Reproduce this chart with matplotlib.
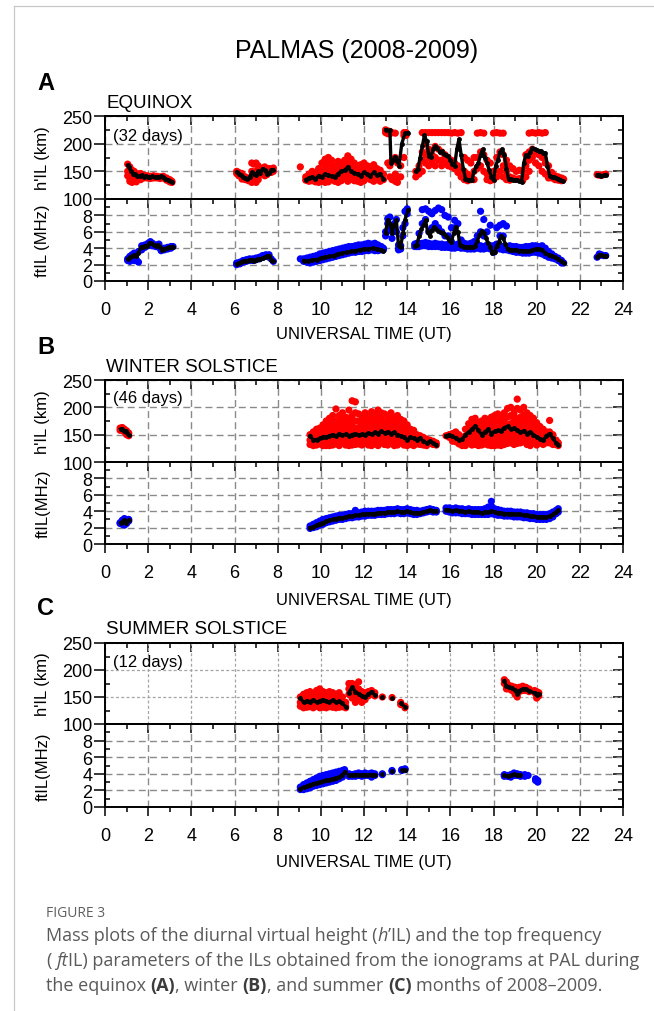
import numpy as np
import matplotlib
matplotlib.use("Agg")
import matplotlib.pyplot as plt
from matplotlib.ticker import MultipleLocator, FixedLocator
from matplotlib.lines import Line2D

plt.rcParams['font.family'] = ['Liberation Sans', 'DejaVu Sans']

# ---------------- DATA ----------------
TITLE = "PALMAS (2008-2009)"
SEASONS = ["EQUINOX", "WINTER SOLSTICE", "SUMMER SOLSTICE"]
DAYS = ["(32 days)", "(46 days)", "(12 days)"]
LETTERS = ["A", "B", "C"]
FT_LABELS = ["ftIL (MHz)", "ftIL(MHz)", "ftIL(MHz)"]
XTICKS = [0, 2, 4, 6, 8, 10, 12, 14, 16, 18, 20, 22, 24]

# Panel A - h'IL scatter (time: [heights])
A_h_pts = {
 1.05:[163,150,142], 1.15:[158,148,137,132], 1.25:[152,144,136,130], 1.35:[150,140,133],
 1.45:[146,138,131], 1.55:[145,137], 1.65:[146,140,135], 1.8:[143,138], 1.95:[142,138],
 2.1:[141,137], 2.25:[142,138], 2.4:[141,138], 2.55:[140,137], 2.7:[141,138], 2.85:[138,134],
 3.0:[135,131], 3.1:[132,130],
 6.1:[150,146], 6.2:[148,142], 6.35:[146,140,136], 6.5:[140,135], 6.65:[138,133],
 6.8:[165,150,140,130], 6.9:[163,145,132], 7.0:[165,150,140,130], 7.1:[160,148,135],
 7.25:[155,145], 7.4:[158,150,142], 7.5:[150,144], 7.6:[155,148], 7.7:[154,148], 7.8:[156,150],
 9.05:[158], 9.3:[140,134], 9.45:[145,138,132], 9.6:[150,140,133], 9.75:[148,138,131],
 9.9:[155,145,136,130], 10.05:[165,150,140,132], 10.2:[172,160,148,138,130],
 10.35:[175,165,150,140,131], 10.5:[170,158,145,135], 10.65:[160,150,140,132],
 10.8:[168,155,145,135,130], 10.95:[165,152,142,133], 11.1:[170,158,148,138],
 11.25:[178,165,152,140,132], 11.4:[172,160,148,136], 11.55:[165,155,145,133],
 11.7:[160,150,140,132], 11.85:[162,150,138,130], 12.0:[165,152,142,133],
 12.15:[160,148,138], 12.3:[158,146,135], 12.45:[162,150,140,132], 12.6:[155,145,135],
 12.75:[152,140,132], 12.9:[145,135],
 13.0:[225,220], 13.1:[223,218,165], 13.2:[222,218,160,140], 13.3:[220,170,135],
 13.45:[219,175,145,132], 13.55:[165,140,130], 13.7:[160,140], 13.85:[220,215,175],
 13.95:[220,215],
 14.4:[150,140], 14.55:[160,145], 14.7:[220,185,170,150], 14.85:[220,200,180,165],
 15.0:[220,190,175,160], 15.15:[220,180,165], 15.3:[220,195,175,160], 15.45:[220,190,170],
 15.6:[220,185,170,160], 15.75:[220,180,165], 15.9:[220,175,160], 16.05:[219,170,158],
 16.2:[220,165,155], 16.35:[219,160,148], 16.5:[220,155,140], 16.65:[175,150,135],
 16.8:[170,145,133], 16.95:[165,140,135], 17.1:[175,150,135], 17.25:[219,175,155],
 17.4:[220,185,160], 17.55:[219,180,150], 17.7:[170,145,135], 17.85:[165,140,133],
 18.0:[219,150,135], 18.15:[220,175,140], 18.3:[219,185,150], 18.45:[219,180,160,140],
 18.6:[170,150,135], 18.75:[160,140,134], 18.9:[155,138], 19.05:[150,136], 19.2:[152,137],
 19.35:[150,133], 19.5:[180,160,140], 19.65:[219,185,170,150], 19.8:[220,190,175],
 19.95:[219,185,165], 20.1:[220,180,160], 20.25:[219,175,150], 20.4:[220,165,145],
 20.55:[160,145,138], 20.7:[148,138], 20.85:[142,135], 21.0:[140,134], 21.15:[138,133],
 21.25:[136],
 22.8:[144], 22.9:[143], 23.0:[143], 23.1:[144], 23.2:[145],
}
A_h_mean = [
 {1.05:161,1.12:157,1.2:150,1.3:146,1.4:145,1.5:142,1.6:141,1.7:143,1.8:140,1.9:141,2.0:139,
  2.1:140,2.2:141,2.3:139,2.4:140,2.5:140,2.6:141,2.7:140,2.8:137,2.9:135,3.0:133,3.1:131},
 {6.1:149,6.2:146,6.3:143,6.4:140,6.5:138,6.6:136,6.7:140,6.8:148,6.9:146,7.0:144,7.1:150,
  7.2:147,7.3:155,7.4:152,7.5:145,7.6:147,7.7:152,7.8:153},
 {9.3:135,9.45:138,9.6:140,9.75:136,9.9:142,10.05:140,10.2:145,10.35:143,10.5:141,10.65:140,
  10.8:146,10.95:150,11.1:152,11.25:158,11.4:150,11.55:147,11.7:145,11.85:142,12.0:148,
  12.15:145,12.3:142,12.45:148,12.6:143,12.75:146,12.9:136},
 {13.0:225,13.2:224,13.25:165,13.35:170,13.45:176,13.55:168,13.62:160,13.75:200,13.9:219,14.05:219},
 {14.4:150,14.5:155,14.6:175,14.7:195,14.8:215,14.9:205,15.0:178,15.1:176,15.2:190,15.3:196,
  15.4:192,15.5:185,15.6:187,15.7:182,15.8:180,15.9:177,16.0:170,16.1:163,16.2:160,16.3:190,
  16.4:208,16.5:180,16.6:155,16.7:137,16.8:135,16.9:135,17.0:134,17.1:150,17.2:160,17.3:165,
  17.4:180,17.5:190,17.6:175,17.7:165,17.8:152,17.9:140,18.0:134,18.1:160,18.2:170,18.3:185,
  18.4:190,18.5:180,18.6:155,18.7:136,18.8:136,18.9:135,19.0:134,19.1:135,19.2:132,19.3:131,
  19.4:165,19.5:180,19.6:178,19.7:185,19.8:192,19.9:190,20.0:188,20.1:186,20.2:187,20.3:184,
  20.4:183,20.5:160,20.6:142,20.7:140,20.8:139,20.9:138,21.0:137,21.1:135,21.2:133},
 {22.8:143,22.9:143,23.0:142,23.1:143,23.2:144},
]

# Panel A - ftIL scatter
A_f_pts = {
 1.05:[2.7,2.5], 1.15:[3.0,2.6,2.4], 1.25:[3.2,2.8], 1.35:[3.4,2.9,2.5], 1.45:[3.3,2.6],
 1.55:[3.6,2.3], 1.7:[4.3,3.8], 1.85:[4.4,4.1], 2.0:[4.6,4.3], 2.1:[4.8,4.5], 2.2:[4.6,4.3],
 2.35:[4.4,4.2], 2.5:[4.5,4.1], 2.6:[3.9,3.7], 2.75:[4.0,3.8], 2.9:[4.1,3.9], 3.05:[4.2,4.0],
 3.15:[4.2],
 6.1:[2.2,2.0], 6.25:[2.3,2.1], 6.4:[2.5,2.3], 6.55:[2.6,2.4], 6.7:[2.7,2.5], 6.85:[2.7,2.5],
 7.0:[2.8,2.6], 7.15:[2.9,2.7], 7.3:[3.1,2.9], 7.45:[3.2,3.0], 7.6:[3.2,2.9], 7.7:[2.7], 7.8:[2.4],
 9.05:[2.7], 9.2:[2.7,2.4], 9.35:[2.8,2.3], 9.5:[2.9,2.5,2.2], 9.65:[3.0,2.6,2.3],
 9.8:[3.1,2.7,2.4], 9.95:[3.3,2.9,2.5], 10.1:[3.4,3.0,2.6], 10.25:[3.5,3.1,2.7],
 10.4:[3.6,3.2,2.8], 10.55:[3.7,3.3,2.9], 10.7:[3.8,3.4,3.0], 10.85:[3.9,3.5,3.1],
 11.0:[4.0,3.6,3.2], 11.15:[4.1,3.7,3.3], 11.3:[4.2,3.8,3.4], 11.45:[4.2,3.8,3.5],
 11.6:[4.3,3.9,3.5], 11.75:[4.4,4.0,3.6], 11.9:[4.4,4.0,3.6], 12.05:[4.5,4.1,3.7],
 12.2:[4.6,4.2,3.7], 12.35:[4.5,4.1,3.8], 12.5:[4.6,4.1,3.7], 12.65:[4.4,4.0,3.7],
 12.8:[4.2,3.8], 12.9:[4.0,3.8],
 13.0:[6.0,5.5], 13.1:[7.6,7.0], 13.2:[7.8,6.5], 13.3:[6.0,5.2], 13.4:[7.0,6.3], 13.5:[7.5,6.0],
 13.6:[4.4,4.0,3.8], 13.7:[4.3,3.9], 13.8:[6.5,5.5], 13.9:[8.5,7.0], 14.0:[8.8,8.2],
 14.35:[4.5,4.2], 14.45:[4.6,4.2], 14.55:[5.8,4.6,4.2], 14.7:[8.7,7.0,4.6,4.3],
 14.85:[8.8,7.5,4.7,4.3], 15.0:[8.5,6.0,4.6,4.2], 15.15:[8.2,6.5,4.5,4.2],
 15.3:[8.6,7.0,4.6,4.2], 15.45:[8.9,6.5,4.5,4.2], 15.6:[8.7,6.0,4.5,4.1],
 15.75:[8.0,5.5,4.4,4.1], 15.9:[7.8,5.5,4.5,4.1], 16.05:[6.5,4.8,4.3,4.0],
 16.2:[7.4,6.5,4.4,4.0], 16.35:[7.0,4.5,4.1], 16.5:[5.0,4.4,4.0], 16.65:[4.6,4.3,4.0],
 16.8:[4.5,4.2,3.9], 16.95:[4.6,4.2,3.9], 17.1:[4.8,4.3,3.9], 17.25:[5.5,4.4,4.0],
 17.4:[8.5,6.0,4.3,3.9], 17.55:[7.5,5.5,4.2,3.9], 17.7:[6.0,4.4,4.0], 17.85:[6.8,4.3,3.9],
 18.0:[4.3,3.9,3.5], 18.15:[6.5,4.5,4.0], 18.3:[6.8,5.5,4.3,3.9], 18.45:[7.0,5.5,4.2,3.8],
 18.6:[6.7,4.2,3.8], 18.75:[4.3,4.0,3.7], 18.9:[4.2,3.9,3.6], 19.05:[4.2,3.8,3.5],
 19.2:[4.1,3.8,3.5], 19.35:[4.1,3.7,3.4], 19.5:[4.2,3.8,3.4], 19.65:[4.2,3.8,3.4],
 19.8:[4.3,3.9,3.5], 19.95:[4.3,3.9,3.5], 20.1:[4.2,3.8,3.4], 20.25:[4.3,3.8,3.3],
 20.4:[4.0,3.5,3.1], 20.55:[3.6,3.2,2.9], 20.7:[3.3,3.0,2.8], 20.85:[3.0,2.7],
 21.0:[2.8,2.5], 21.15:[2.5,2.2], 21.25:[2.2],
 22.8:[2.9], 22.9:[3.1,3.3], 23.0:[3.2], 23.1:[3.1], 23.2:[3.1],
}
A_f_mean = [
 {1.05:2.7,1.15:2.9,1.25:3.0,1.35:3.2,1.45:3.1,1.55:3.4,1.65:4.1,1.75:4.2,1.85:4.3,1.95:4.3,
  2.05:4.6,2.15:4.6,2.25:4.4,2.35:4.3,2.45:4.4,2.55:4.2,2.65:3.8,2.75:3.9,2.85:4.0,2.95:4.1,
  3.05:4.1,3.15:4.2},
 {6.1:2.1,6.2:2.2,6.3:2.3,6.4:2.4,6.5:2.4,6.6:2.5,6.7:2.6,6.8:2.6,6.9:2.5,7.0:2.6,7.1:2.7,
  7.2:2.7,7.3:2.8,7.4:2.9,7.5:3.0,7.6:3.1,7.7:2.6,7.8:2.4},
 {9.2:2.5,9.4:2.4,9.6:2.6,9.8:2.6,10.0:2.8,10.2:2.9,10.4:3.0,10.6:3.1,10.8:3.3,11.0:3.4,
  11.2:3.5,11.4:3.6,11.6:3.7,11.8:3.8,12.0:3.9,12.2:3.9,12.4:4.0,12.6:3.9,12.8:3.8,12.9:3.7},
 {13.0:5.9,13.1:7.5,13.2:7.0,13.3:5.9,13.4:6.8,13.5:7.4,13.6:4.3,13.7:4.2,13.8:5.8,13.9:7.5,14.05:8.7},
 {14.35:4.3,14.45:4.4,14.55:5.5,14.65:6.3,14.75:6.8,14.85:7.4,14.95:6.0,15.05:5.5,15.15:6.2,
  15.25:6.6,15.35:6.3,15.45:6.1,15.55:6.0,15.65:5.8,15.75:5.6,15.85:5.4,15.95:5.0,16.05:4.8,
  16.15:5.8,16.25:6.6,16.35:6.0,16.45:4.4,16.55:4.3,16.65:4.2,16.75:4.1,16.85:4.1,16.95:4.2,
  17.05:4.1,17.15:4.3,17.25:4.9,17.35:5.6,17.45:6.1,17.55:5.9,17.65:5.3,17.75:4.6,17.85:4.2,
  17.95:3.4,18.05:3.5,18.15:4.3,18.25:4.8,18.35:5.5,18.45:5.2,18.55:4.5,18.65:3.9,18.75:3.8,
  18.9:3.8,19.05:3.8,19.2:3.7,19.35:3.7,19.5:3.6,19.65:3.6,19.8:3.8,19.95:3.9,20.1:3.9,
  20.25:3.8,20.4:3.4,20.55:3.2,20.7:3.1,20.85:2.9,21.0:2.7,21.15:2.4,21.25:2.2},
 {22.8:2.9,22.9:3.2,23.0:3.2,23.1:3.1,23.2:3.1},
]

# Panel B - h'IL
B_h_pts = {
 0.7:[162,158], 0.8:[163,158], 0.9:[160,155], 1.0:[157,150], 1.1:[153,148],
 9.5:[150,140,132], 9.65:[155,145,135,130], 9.8:[160,150,140,131], 9.95:[162,152,142,133],
 10.1:[168,158,148,138,130], 10.25:[175,165,155,145,135,130], 10.4:[180,168,158,148,138,130],
 10.55:[185,172,160,150,140,131], 10.7:[197,175,162,152,142,133], 10.85:[185,170,160,150,140,130],
 11.0:[190,178,165,155,145,135], 11.15:[182,170,160,150,140,131],
 11.3:[195,180,168,158,148,138,130], 11.45:[212,185,172,160,150,140,131],
 11.6:[210,190,175,162,150,140,132], 11.75:[188,175,163,152,142,133],
 11.9:[185,172,160,150,140,131], 12.05:[190,178,165,155,145,135],
 12.2:[185,172,160,150,140,131], 12.35:[192,180,168,158,148,138,130],
 12.5:[188,175,163,152,142,133], 12.65:[195,182,170,158,148,138,130],
 12.8:[190,178,165,155,145,135], 12.95:[188,175,163,152,142,132],
 13.1:[185,172,160,150,140,131], 13.25:[190,178,165,155,145,135],
 13.4:[182,170,158,148,138,130], 13.55:[185,172,160,150,140,131],
 13.7:[178,165,155,145,135], 13.85:[175,162,150,140,131], 14.0:[168,155,145,135,130],
 14.15:[160,150,140,132], 14.3:[158,148,138,130], 14.45:[150,142,133], 14.6:[148,140,132],
 14.75:[145,138,131], 14.9:[142,135,130], 15.05:[140,134], 15.2:[138,132], 15.35:[135,131],
 15.8:[148], 15.95:[150,145], 16.1:[152,145,138], 16.25:[155,145,137], 16.4:[150,140,133],
 16.55:[145,135,130], 16.7:[160,148,138,130], 16.85:[170,158,145,135],
 17.0:[178,165,152,140,131], 17.15:[180,168,155,142,132], 17.3:[172,160,148,138,130],
 17.45:[175,162,150,140,131], 17.6:[180,168,155,145,133], 17.75:[178,165,152,142,131],
 17.9:[182,170,158,146,135,130], 18.05:[185,172,160,148,138,130],
 18.2:[188,175,162,150,140,131], 18.35:[185,172,160,148,138,130],
 18.5:[190,178,165,152,142,132], 18.65:[198,182,168,155,145,134],
 18.8:[200,185,170,158,146,135], 18.95:[190,178,165,152,142,132],
 19.1:[215,198,180,168,155,145,134], 19.25:[195,182,170,158,146,135],
 19.4:[200,185,172,160,148,137], 19.55:[190,178,165,152,142,132],
 19.7:[185,172,160,148,138,130], 19.85:[180,168,155,145,135], 20.0:[172,160,150,140,131],
 20.15:[165,155,145,135], 20.3:[160,150,140,132], 20.45:[155,145,135], 20.6:[176,155,145,135],
 20.75:[150,140,132], 20.9:[140,132], 21.0:[135,130],
}
B_h_mean = [
 {0.72:160,0.8:161,0.88:157,0.95:156,1.02:153,1.1:150},
 {9.5:148,9.65:140,9.8:141,9.95:143,10.1:146,10.25:145,10.4:148,10.55:150,10.7:147,10.85:152,
  11.0:149,11.15:151,11.3:148,11.45:150,11.6:152,11.75:149,11.9:151,12.05:150,12.2:153,
  12.35:151,12.5:154,12.65:152,12.8:156,12.95:153,13.1:155,13.25:152,13.4:154,13.55:150,
  13.7:148,13.85:145,14.0:140,14.15:146,14.3:143,14.45:141,14.6:144,14.75:138,14.9:135,
  15.05:138,15.2:134,15.35:132},
 {15.8:148,15.95:150,16.1:147,16.25:144,16.4:140,16.55:142,16.7:150,16.85:155,17.0:160,
  17.15:166,17.3:158,17.45:150,17.6:155,17.75:160,17.9:152,18.05:156,18.2:158,18.35:157,
  18.5:163,18.65:165,18.8:160,18.95:162,19.1:158,19.25:154,19.4:157,19.55:152,19.7:155,
  19.85:150,20.0:146,20.15:142,20.3:140,20.45:148,20.6:152,20.75:143,20.9:135,21.0:132},
]

# Panel B - ftIL
B_f_pts = {
 0.7:[2.6,2.5], 0.8:[2.9,2.4], 0.9:[3.1,2.7,2.3], 1.0:[2.8,2.5], 1.1:[3.0,2.8],
 9.5:[2.2,1.9], 9.65:[2.4,2.0], 9.8:[2.6,2.1], 9.95:[2.8,2.3], 10.1:[3.0,2.5,2.4],
 10.25:[3.1,2.6], 10.4:[3.2,2.7], 10.55:[3.3,2.8], 10.7:[3.4,2.9], 10.85:[3.5,3.0],
 11.0:[3.5,3.0], 11.15:[3.6,3.1], 11.3:[3.7,3.2], 11.45:[3.7,3.2], 11.6:[4.1,3.8,3.3],
 11.75:[3.8,3.3], 11.9:[3.9,3.4], 12.05:[4.0,3.4], 12.2:[4.0,3.5], 12.35:[4.0,3.5],
 12.5:[4.0,3.5], 12.65:[4.1,3.6], 12.8:[4.1,3.6], 12.95:[4.1,3.6], 13.1:[4.2,3.7],
 13.25:[4.2,3.7], 13.4:[4.2,3.7], 13.55:[4.3,3.8], 13.7:[4.2,3.7], 13.85:[4.2,3.7],
 14.0:[4.3,3.8], 14.15:[4.2,3.7], 14.3:[4.1,3.6], 14.45:[4.1,3.6], 14.6:[4.0,3.7],
 14.75:[4.1,3.8], 14.9:[4.2,3.9], 15.05:[4.3,4.0], 15.2:[4.2,3.9], 15.35:[4.1,3.9],
 15.8:[4.4,4.0], 15.95:[4.4,3.9], 16.1:[4.3,3.8], 16.25:[4.4,3.8], 16.4:[4.3,3.8],
 16.55:[4.3,3.7], 16.7:[4.2,3.7], 16.85:[4.3,3.7], 17.0:[4.2,3.6], 17.15:[4.2,3.6],
 17.3:[4.2,3.6], 17.45:[4.2,3.6], 17.6:[4.3,3.6], 17.75:[4.5,3.6], 17.9:[5.2,4.6,3.7],
 18.05:[4.3,3.6], 18.2:[4.2,3.5], 18.35:[4.1,3.5], 18.5:[4.0,3.4], 18.65:[4.0,3.4],
 18.8:[4.0,3.4], 18.95:[3.9,3.3], 19.1:[3.9,3.3], 19.25:[3.9,3.3], 19.4:[3.8,3.2],
 19.55:[3.8,3.2], 19.7:[3.7,3.1], 19.85:[3.7,3.1], 20.0:[3.6,3.0], 20.15:[3.6,3.0],
 20.3:[3.6,3.0], 20.45:[3.6,3.0], 20.6:[3.7,3.1], 20.75:[3.9,3.3], 20.9:[4.1,3.7], 21.0:[4.3,3.9],
}
B_f_mean = [
 {0.72:2.6,0.8:2.7,0.88:2.9,0.95:2.6,1.02:2.8,1.1:2.9},
 {9.5:2.0,9.65:2.1,9.8:2.3,9.95:2.5,10.1:2.6,10.25:2.8,10.4:2.9,10.55:3.0,10.7:3.1,10.85:3.2,
  11.0:3.2,11.15:3.3,11.3:3.4,11.45:3.4,11.6:3.5,11.75:3.5,11.9:3.6,12.05:3.6,12.2:3.7,
  12.35:3.7,12.5:3.7,12.65:3.8,12.8:3.8,12.95:3.8,13.1:3.9,13.25:3.9,13.4:3.9,13.55:4.0,
  13.7:3.9,13.85:3.9,14.0:4.0,14.15:3.9,14.3:3.8,14.45:3.8,14.6:3.8,14.75:3.9,14.9:4.0,
  15.05:4.1,15.2:4.0,15.35:4.0},
 {15.8:4.2,15.95:4.1,16.1:4.0,16.25:4.1,16.4:4.0,16.55:4.0,16.7:3.9,16.85:4.0,17.0:3.9,
  17.15:3.9,17.3:3.9,17.45:3.8,17.6:3.9,17.75:3.9,17.9:4.0,18.05:3.9,18.2:3.8,18.35:3.8,
  18.5:3.7,18.65:3.7,18.8:3.7,18.95:3.6,19.1:3.6,19.25:3.6,19.4:3.5,19.55:3.5,19.7:3.4,
  19.85:3.4,20.0:3.3,20.15:3.3,20.3:3.3,20.45:3.3,20.6:3.4,20.75:3.6,20.9:3.9,21.0:4.1},
]

# Panel C - h'IL
C_h_pts = {
 9.05:[150,140,133], 9.2:[155,145,135,130], 9.35:[158,148,138,131], 9.5:[160,150,140,132],
 9.65:[155,145,135,130], 9.8:[162,152,142,133], 9.95:[165,155,145,135,130],
 10.1:[160,150,140,131], 10.25:[158,148,138,130], 10.4:[160,150,140,132],
 10.55:[158,148,138,131], 10.7:[155,145,135,130], 10.85:[158,148,138,131],
 11.0:[150,140,132], 11.15:[140,133,130],
 11.3:[175,165,155], 11.45:[175,168,158,148], 11.6:[172,160,150,140], 11.75:[178,165,155,145],
 11.9:[160,150,140], 12.05:[158,150,145], 12.2:[160,152], 12.35:[162,155], 12.5:[158,152],
 12.85:[150], 13.3:[149], 13.7:[140,136], 13.9:[133,130],
 18.5:[182,175], 18.6:[178,170,165], 18.7:[172,165], 18.85:[170,162], 19.0:[168,160,155],
 19.1:[165,155,150], 19.2:[168,160], 19.35:[170,162], 19.5:[168,162], 19.65:[165,160],
 19.9:[162,158], 20.0:[160,152,148], 20.1:[158,152],
}
C_h_mean = [
 {9.05:148,9.2:140,9.35:143,9.5:141,9.65:145,9.8:140,9.95:143,10.1:145,10.25:142,10.4:141,
  10.55:144,10.7:140,10.85:142,11.0:138,11.15:132},
 {11.3:158,11.45:168,11.6:160,11.75:156,11.9:152,12.05:150,12.2:155,12.35:160,12.5:154},
 {12.85:150}, {13.3:149}, {13.7:138,13.9:132},
 {18.5:180,18.6:170,18.7:168,18.85:166,19.0:163,19.1:155,19.2:162,19.35:165,19.5:164,
  19.65:162,19.9:157,20.0:153,20.1:156},
]

# Panel C - ftIL
C_f_pts = {
 9.05:[2.4,2.1], 9.2:[2.7,2.3,2.1], 9.35:[2.9,2.5,2.2], 9.5:[3.1,2.7,2.3], 9.65:[3.3,2.9,2.5],
 9.8:[3.5,3.1,2.6], 9.95:[3.7,3.2,2.7], 10.1:[3.8,3.3,2.8], 10.25:[3.9,3.4,2.9],
 10.4:[4.0,3.5,3.0], 10.55:[4.1,3.6,3.1], 10.7:[4.2,3.7,3.2], 10.85:[4.3,3.8,3.4],
 11.0:[4.4,4.0,3.6], 11.1:[4.5,4.1],
 11.3:[4.0,3.7], 11.45:[3.9,3.7], 11.6:[4.0,3.7], 11.75:[4.1,3.8], 11.9:[4.0,3.7],
 12.05:[4.1,3.8], 12.2:[4.0,3.8], 12.35:[4.1,3.6], 12.5:[4.0,3.8],
 12.85:[4.0,3.9], 13.3:[4.4,4.3], 13.75:[4.5,4.4], 13.9:[4.6,4.5],
 18.5:[3.9,3.7], 18.65:[3.8,3.7], 18.8:[3.9,3.6], 18.95:[4.1,3.8], 19.1:[4.0,3.8],
 19.25:[3.9,3.7], 19.45:[3.9,3.7], 19.6:[3.8], 19.95:[3.4,3.2], 20.05:[3.2,3.0],
}
C_f_mean = [
 {9.05:2.2,9.2:2.4,9.35:2.5,9.5:2.7,9.65:2.8,9.8:2.9,9.95:3.0,10.1:3.1,10.25:3.2,10.4:3.3,
  10.55:3.4,10.7:3.5,10.85:3.6,11.0:3.9,11.1:4.2},
 {11.3:3.8,11.45:3.8,11.6:3.9,11.75:3.9,11.9:3.8,12.05:3.9,12.2:3.9,12.35:3.9,12.5:3.9},
 {12.85:3.95}, {13.3:4.3}, {13.75:4.5,13.9:4.5},
 {18.5:3.8,18.65:3.75,18.8:3.8,18.95:3.95,19.1:3.9,19.25:3.8},
]

# ---------------- LAYOUT ----------------
W, H = 654, 1012
fig = plt.figure(figsize=(W / 100, H / 100), dpi=100)

def fx(px):
    return px / W

def fy(py):
    return 1 - py / H

def add_ax(left, top, right, bottom):
    return fig.add_axes([fx(left), fy(bottom), (right - left) / W, (bottom - top) / H])

SP_LW = 1.4
TK_W = 1.1
GRID_C = '#8a8a8a'

def style_common(ax, kind, fine_grid=False):
    ax.set_xlim(0, 24)
    ax.xaxis.set_major_locator(FixedLocator(XTICKS))
    ax.xaxis.set_minor_locator(MultipleLocator(1))
    for sp in ax.spines.values():
        sp.set_linewidth(SP_LW)
    if kind == 'h':
        ax.set_ylim(100, 250)
        ymaj, ymin = [100, 150, 200, 250], [125, 175, 225]
        ax.tick_params(axis='x', which='both', bottom=False, top=False, labelbottom=False)
    else:
        ax.set_ylim(0, 10)
        ymaj, ymin = [0, 2, 4, 6, 8], [1, 3, 5, 7, 9]
        ax.tick_params(axis='x', which='major', direction='out', length=6.5, width=TK_W,
                       labelsize=13, pad=8, top=False)
        ax.tick_params(axis='x', which='minor', direction='out', length=3.5, width=TK_W, top=False)
    ax.yaxis.set_major_locator(FixedLocator(ymaj))
    ax.yaxis.set_minor_locator(FixedLocator(ymin))
    ax.tick_params(axis='y', which='major', direction='out', length=8, width=TK_W,
                   labelsize=13, pad=1, right=False)
    ax.tick_params(axis='y', which='minor', direction='in', length=3.5, width=TK_W, right=False)
    # inward ticks on top and right
    sx = ax.secondary_xaxis('top')
    sx.xaxis.set_major_locator(FixedLocator(XTICKS))
    sx.xaxis.set_minor_locator(MultipleLocator(1))
    sx.tick_params(which='major', direction='in', length=6.5, width=TK_W, labeltop=False)
    sx.tick_params(which='minor', direction='in', length=3.5, width=TK_W)
    sx.spines['top'].set_linewidth(SP_LW)
    sy = ax.secondary_yaxis('right')
    sy.yaxis.set_major_locator(FixedLocator(ymaj))
    sy.yaxis.set_minor_locator(FixedLocator(ymin))
    sy.tick_params(which='major', direction='in', length=7, width=TK_W, labelright=False)
    sy.tick_params(which='minor', direction='in', length=3.5, width=TK_W)
    sy.spines['right'].set_linewidth(SP_LW)
    ax.set_axisbelow(True)
    if fine_grid:
        ax.grid(True, which='major', color='#a6a6a6', lw=0.9, linestyle=(0, (2.4, 1.8)))
    else:
        ax.grid(True, which='major', color=GRID_C, lw=1.0, linestyle=(0, (5, 3)))

def draw_points(ax, pts, color):
    ts, vs = [], []
    for t, vals in pts.items():
        for v in vals:
            ts.append(t)
            vs.append(v)
    ax.scatter(ts, vs, s=27, c=color, edgecolors='none', zorder=2)

def draw_mean(ax, segs):
    for seg in segs:
        t = list(seg.keys())
        v = list(seg.values())
        ax.plot(t, v, color='k', lw=2.4, marker='o', ms=3.5, mew=0, zorder=3)

panels = [
    dict(top=117, mid=200, bot=282, h_pts=A_h_pts, h_mean=A_h_mean, f_pts=A_f_pts, f_mean=A_f_mean,
         letter_y=83, season_y=103, days_y=136, ut_y=335, fine=False),
    dict(top=381, mid=463, bot=545, h_pts=B_h_pts, h_mean=B_h_mean, f_pts=B_f_pts, f_mean=B_f_mean,
         letter_y=347, season_y=367, days_y=399, ut_y=601, fine=False),
    dict(top=644, mid=725, bot=808, h_pts=C_h_pts, h_mean=C_h_mean, f_pts=C_f_pts, f_mean=C_f_mean,
         letter_y=609, season_y=630, days_y=662, ut_y=863, fine=True),
]

LEFT, RIGHT = 105, 623
for i, p in enumerate(panels):
    axh = add_ax(LEFT, p['top'], RIGHT, p['mid'])
    axf = add_ax(LEFT, p['mid'], RIGHT, p['bot'])
    style_common(axh, 'h', fine_grid=p['fine'])
    style_common(axf, 'f')
    draw_points(axh, p['h_pts'], '#ff0000')
    draw_mean(axh, p['h_mean'])
    draw_points(axf, p['f_pts'], '#0000ff')
    draw_mean(axf, p['f_mean'])
    axf.set_xticklabels([str(x) for x in XTICKS])

    fig.text(fx(46), fy(p['letter_y']), LETTERS[i], fontsize=17, weight='bold', ha='center', va='center')
    fig.text(fx(106), fy(p['season_y']), SEASONS[i], fontsize=13.5, ha='left', va='center')
    fig.text(fx(113), fy(p['days_y']), DAYS[i], fontsize=12, ha='left', va='center')
    fig.text(fx(364), fy(p['ut_y']), "UNIVERSAL TIME (UT)", fontsize=12, ha='center', va='center')
    fig.text(fx(43), fy((p['top'] + p['mid']) / 2), "h'IL (km)", fontsize=12, rotation=90,
             ha='center', va='center')
    fig.text(fx(43), fy((p['mid'] + p['bot']) / 2), FT_LABELS[i], fontsize=12, rotation=90,
             ha='center', va='center')

fig.text(fx(357), fy(51), TITLE, fontsize=18, ha='center', va='center')

# frame lines of the page
fig.add_artist(Line2D([fx(14), 1], [fy(7), fy(7)], color='#c8c8c8', lw=0.9))
fig.add_artist(Line2D([fx(14), fx(14)], [fy(7), 0], color='#c8c8c8', lw=0.9))

# ---------------- CAPTION ----------------
CAP_FONT = ['Open Sans', 'DejaVu Sans']
CAP_SIZE = 13.0
CAP_COLOR = '#5a5a5a'
renderer = fig.canvas.get_renderer()

def text_w(s, **kw):
    t = fig.text(0, 0, s, **kw)
    w = t.get_window_extent(renderer).width
    t.remove()
    return w

def rich_line(x_px, y_px, segs):
    base = dict(fontsize=CAP_SIZE, family=CAP_FONT)
    sp_w = text_w("x x", **base) - text_w("xx", **base)
    x = x_px
    for s, st in segs:
        if s == " ":
            x += sp_w
            continue
        kw = dict(base, color=CAP_COLOR, ha='left', va='baseline')
        if st == 'i':
            kw['style'] = 'italic'
        if st == 'b':
            kw['weight'] = 'bold'
            kw['color'] = '#3c3c3c'
        t = fig.text(fx(x), fy(y_px), s, **kw)
        x += t.get_window_extent(renderer).width

fig.text(fx(46), fy(917), "FIGURE 3", fontsize=10, family=CAP_FONT, color='#5f5f5f',
         ha='left', va='baseline')
rich_line(46, 941, [("Mass plots of the diurnal virtual height (", 'n'), ("h", 'i'),
                    ("\u2019IL) and the top frequency", 'n')])
rich_line(46, 966, [("(", 'n'), (" ", 'n'), ("ft", 'i'),
                    ("IL) parameters of the ILs obtained from the ionograms at PAL during", 'n')])
rich_line(46, 991, [("the equinox", 'n'), (" ", 'n'), ("(A)", 'b'), (", winter", 'n'), (" ", 'n'),
                    ("(B)", 'b'), (", and summer", 'n'), (" ", 'n'), ("(C)", 'b'), (" ", 'n'),
                    ("months of 2008\u20132009.", 'n')])

fig.savefig("out.png", dpi=100)
